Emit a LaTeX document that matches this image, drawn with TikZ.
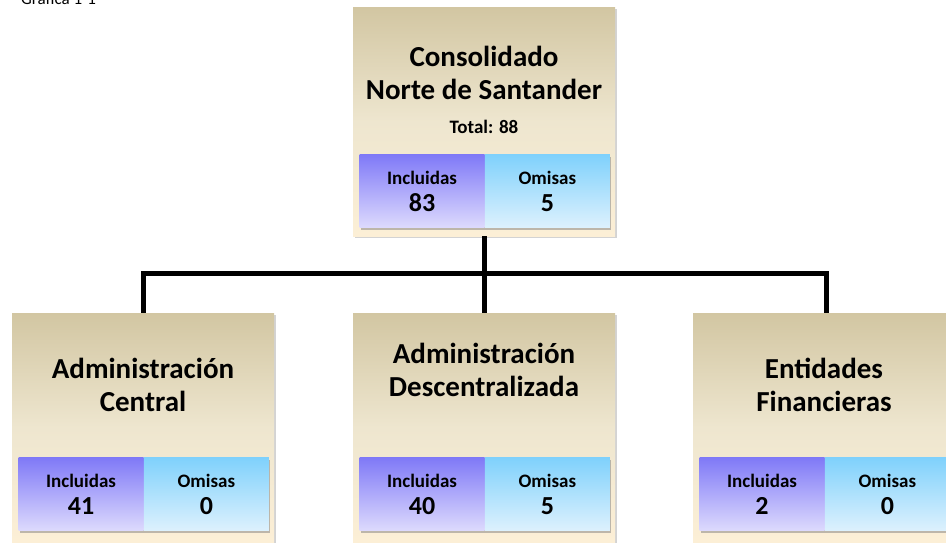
\documentclass[tikz,border=0pt]{standalone}
\usepackage{fontspec}
\setmainfont{Carlito}
\usepackage{tikz}
\usetikzlibrary{positioning, shadows, calc}

\definecolor{PanelTop}{HTML}{D2C6A2}
\definecolor{PanelMid}{HTML}{EEE6CF}
\definecolor{PanelBot}{HTML}{FCEFD6}
\definecolor{InclTop}{HTML}{7F79F7}
\definecolor{InclBot}{HTML}{DDDAFD}
\definecolor{OmisTop}{HTML}{7FD1FC}
\definecolor{OmisBot}{HTML}{DDF1FD}

\tikzset{
    panel/.style={top color=PanelTop, bottom color=PanelBot, middle color=PanelMid,
        minimum width=262pt, minimum height=229pt, inner sep=0pt,
        drop shadow={shadow xshift=2pt, shadow yshift=-2pt, opacity=0.35}},
    incl/.style={top color=InclTop, bottom color=InclBot,
        minimum width=125pt, minimum height=73pt, inner sep=0pt, align=center,
        font=\fontsize{19}{27}\selectfont\bfseries,
        drop shadow={shadow xshift=1pt, shadow yshift=-2pt, opacity=0.5}},
    omis/.style={incl, top color=OmisTop, bottom color=OmisBot},
    title/.style={font=\fontsize{29}{33}\selectfont\bfseries, align=center},
    conn/.style={line width=5pt, black}
}

\newcommand{\stat}[2]{#1\\{\fontsize{26}{27}\selectfont #2}}

\begin{document}
\begin{tikzpicture}[x=1pt, y=-1pt]
    \useasboundingbox (0,0) rectangle (946,542);
    \clip (0,0) rectangle (946,542);

    % caption, cut at the top edge
    \node[anchor=base west, font=\fontsize{17}{20}\selectfont, inner sep=0pt] (caption) at (21,4) {Gráfica 1-1};

    % bus line
    \coordinate (bus) at (484,273);

    % panels
    \node[panel] (top) at (484,121.5) {};
    \node[panel] (left) at (143,427.5) {};
    \node[panel] (mid) at (484,427.5) {};
    \node[panel] (right) at (824,427.5) {};

    % connectors
    \draw[conn] (top.south) -- (mid.north);
    \draw[conn] (bus) -| (left.north);
    \draw[conn] (bus) -| ([xshift=2pt]right.north);

    % titles
    \node[title] (toptitle) at ($(top)+(0,-49)$) {Consolidado\\Norte de Santander};
    \node[font=\fontsize{19}{20}\selectfont\bfseries] (total) at ($(top)+(0,5)$) {Total: 88};
    \node[title] (lefttitle) at ($(left)+(0,-43)$) {Administración\\Central};
    \node[title] (midtitle) at ($(mid)+(0,-58)$) {Administración\\Descentralizada};
    \node[title] (righttitle) at ($(right)+(0,-43)$) {Entidades\\Financieras};

    % included / omitted boxes
    \foreach \p/\dy/\a/\b in {top/69.5/83/5, left/66.5/41/0, mid/66.5/40/5, right/66.5/2/0}{
        \node[incl] (\p-incl) at ($(\p)+(-62,\dy)$) {\stat{Incluidas}{\a}};
        \node[omis, right=0pt of \p-incl] (\p-omis) {\stat{Omisas}{\b}};
    }
\end{tikzpicture}
\end{document}
